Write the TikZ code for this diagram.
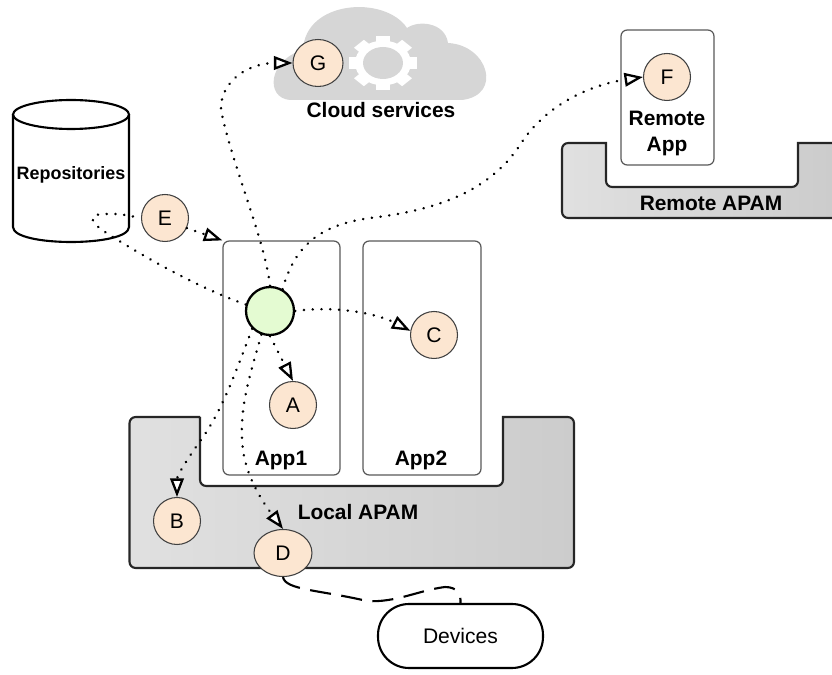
\documentclass[tikz,border=0pt]{standalone}
\usepackage{fontspec}
\setmainfont{Liberation Sans}
\usetikzlibrary{arrows.meta,shapes.geometric}
\definecolor{callfill}{HTML}{FCE6D1}
\definecolor{greenfill}{HTML}{E4FBD2}
\definecolor{cloudgray}{HTML}{D6D6D6}
\tikzset{
	apam/.style={draw=black!85, line width=1.2pt, left color=black!12, right color=black!20},
	appbox/.style={draw=black!65, fill=white, line width=0.7pt, rounded corners=3.5pt, inner sep=0},
	call/.style={ellipse, draw=black!75, fill=callfill, line width=0.6pt, minimum width=0.94cm, minimum height=0.94cm, inner sep=0, font=\fontsize{12}{13}\selectfont},
	title/.style={font=\fontsize{11.9}{14.8}\selectfont\bfseries, align=center, inner sep=0},
	dep/.style={line width=1.5pt, line cap=round, dash pattern=on 0.1pt off 4.9pt},
	deparrow/.style={dep, -{Triangle[open, fill=white, length=0.37cm, width=0.27cm, line width=1.3pt, sep=0pt]}},
}
\begin{document}
\begin{tikzpicture}[x=0.02cm, y=-0.02cm]
	\useasboundingbox (0,0) rectangle (832,675);

	% cloud with its gear
	\fill[cloudgray] (290,100) .. controls (265,98) and (268,60) .. (303,50)
		.. controls (305,0) and (385,-5) .. (407,28)
		.. controls (418,20) and (445,22) .. (448,43)
		.. controls (488,45) and (503,95) .. (462,100) -- cycle;
	\begin{scope}[shift={(383,63)}, yscale=0.8]
		\fill[white] (0,0) circle (0.56cm);
		\foreach \a in {0,45,...,315}
			\fill[white, rotate=\a] (25,-7) rectangle (34,7);
		\fill[cloudgray] (0,0) circle (0.4cm);
	\end{scope}
	\node[title] (cloudlabel) at (381,110) {Cloud services};

	% repositories
	\draw[line width=1.2pt, fill=white] (13,114.5) -- (13,227) .. controls (13,247) and (129,247) .. (129,227) -- (129,114.5);
	\draw[line width=1.2pt, fill=white] (71,114.5) ellipse (1.16cm and 0.29cm);
	\node[title, font=\fontsize{10.2}{12}\selectfont\bfseries] (repo) at (71,175) {Repositories};

	% platforms
	\draw[apam] (200,417) -- (170,417) [rounded corners=3.5pt] -- (129.5,417) -- (129.5,568) -- (574,568) -- (574,417) -- (540,417) [sharp corners] -- (503,417) -- (503,450) [rounded corners=3.5pt] -- (503,486) -- (200,486) -- (200,450) [sharp corners] -- (200,417);
	\draw[apam] (832,143) -- (798,143) -- (798,165) [rounded corners=3.5pt] -- (798,187) -- (606,187) -- (606,165) [sharp corners] -- (606,143) -- (590,143) [rounded corners=3.5pt] -- (562,143) -- (562,218) -- (832,218);

	% apps
	\node[appbox, minimum width=2.34cm, minimum height=4.68cm] (app1) at (281.5,358) {};
	\node[appbox, minimum width=2.36cm, minimum height=4.68cm] (app2) at (422,358) {};
	\node[appbox, minimum width=1.86cm, minimum height=2.7cm] (remoteapp) at (667.5,97.5) {};

	\node[title] (app1label) at (281,460) {App1};
	\node[title] (app2label) at (421,460) {App2};
	\node[title] (locallabel) at (358,512) {Local APAM};
	\node[title] (remotelabel) at (711,203) {Remote APAM};
	\node[title] (remoteapplabel) at (667,133) {Remote\\App};

	% calls
	\node[call] (A) at (293,405) {A};
	\node[call] (B) at (177,521) {B};
	\node[call] (C) at (434,335) {C};
	\node[call, minimum width=1.16cm] (D) at (283,553) {D};
	\node[call] (E) at (165,218) {E};
	\node[call] (F) at (667,77) {F};
	\node[call, minimum width=1cm] (G) at (318,63) {G};
	\node[call, draw=black, fill=greenfill, line width=1.3pt, minimum width=0.96cm, minimum height=0.96cm] (caller) at (270,311) {};

	\node[draw, line width=1.2pt, fill=white, rounded corners=0.62cm, minimum width=3.3cm, minimum height=1.28cm, inner sep=0, font=\fontsize{12}{13}\selectfont] (devices) at (460.5,636) {Devices};

	% connectors
	\draw[deparrow] (caller.south) -- (A.north);
	\draw[deparrow] (caller.225) .. controls (238,365) and (225,405) .. (203,437) .. controls (190,455) and (177,475) .. (B.north);
	\draw[deparrow] (caller.east) .. controls (340,305) and (380,315) .. (C.170);
	\draw[deparrow] (caller.250) .. controls (250,375) and (238,410) .. (243,450) .. controls (247,480) and (265,505) .. (D.north);
	\draw[dep] (caller.165) .. controls (190,285) and (125,245) .. (105,232) .. controls (90,222) and (85,213) .. (110,214) .. controls (120,214) .. (E.west);
	\draw[deparrow] (E.335) -- (app1.north west);
	\draw[deparrow] (caller.60) .. controls (295,245) and (320,225) .. (370,218) .. controls (440,210) and (490,190) .. (520,145) .. controls (545,105) and (590,85) .. (F.west);
	\draw[deparrow] (caller.north) .. controls (265,240) and (232,165) .. (221,110) .. controls (220,80) and (250,63) .. (G.west);
	\draw[line width=1.2pt, dash pattern=on 12pt off 6pt] (D.south) .. controls (285,590) and (320,590) .. (367,601) .. controls (395,603) and (420,590) .. (445,587) .. controls (458,587) and (461,595) .. (devices.north);
\end{tikzpicture}
\end{document}
